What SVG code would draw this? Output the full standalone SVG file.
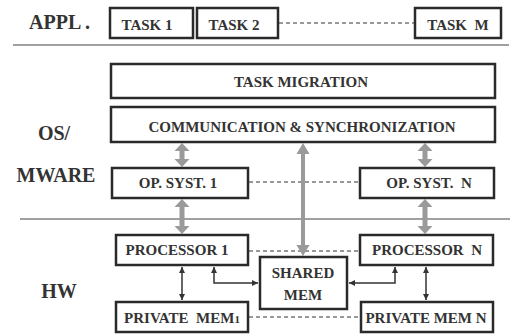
<svg xmlns="http://www.w3.org/2000/svg" width="520" height="336" viewBox="0 0 520 336">
<style>
text{font-family:'Liberation Serif','Times New Roman',Times,serif;font-weight:700;fill:#333;}
.lbl{font-size:20px;}
.t{font-size:15px;text-anchor:middle;}
.box{fill:#fff;stroke:#2a2a2a;stroke-width:2.5;}
.div{stroke:#808080;stroke-width:1.5;fill:none;}
.dash{stroke:#333;stroke-width:1;stroke-dasharray:4 3;fill:none;}
.gray{fill:#9a9a9a;stroke:none;}
.thin{stroke:#333;stroke-width:1.5;fill:none;marker-start:url(#ah);marker-end:url(#ah);}
</style>
<defs>
<marker id="ah" viewBox="0 0 8 8" refX="8" refY="4" markerWidth="6" markerHeight="6" markerUnits="userSpaceOnUse" orient="auto-start-reverse">
<path d="M0,0 L8,4 L0,8 z" fill="#333"/>
</marker>
</defs>
<rect width="520" height="336" fill="#fff"/>
<g id="layer-labels">
<text class="lbl" x="29" y="29" style="font-family:'Liberation Serif',serif">APPL .</text>
<text class="lbl" x="54" y="140" text-anchor="middle">OS/</text>
<text class="lbl" x="56" y="182" text-anchor="middle">MWARE</text>
<text class="lbl" x="59" y="298" text-anchor="middle">HW</text>
</g>
<g id="dividers">
<line class="div" x1="13" y1="45" x2="509" y2="45"/>
<line class="div" x1="20" y1="219" x2="510" y2="219"/>
</g>
<g id="connectors">
<line class="dash" x1="279" y1="23" x2="414" y2="23"/>
<line class="dash" x1="249" y1="182" x2="359" y2="182"/>
<line class="dash" x1="249" y1="251" x2="359" y2="251"/>
<line class="dash" x1="249" y1="317" x2="360" y2="317"/>
<path class="gray" d="M182,143 L189.5,151 L184.5,151 L184.5,159 L189.5,159 L182,167 L174.5,159 L179.5,159 L179.5,151 L174.5,151 Z"/>
<path class="gray" d="M425,143 L432.5,151 L427.5,151 L427.5,159 L432.5,159 L425,167 L417.5,159 L422.5,159 L422.5,151 L417.5,151 Z"/>
<path class="gray" d="M182,199 L189.5,207 L184.5,207 L184.5,226 L189.5,226 L182,234 L174.5,226 L179.5,226 L179.5,207 L174.5,207 Z"/>
<path class="gray" d="M425,199 L432.5,207 L427.5,207 L427.5,226 L432.5,226 L425,234 L417.5,226 L422.5,226 L422.5,207 L417.5,207 Z"/>
<path class="gray" d="M303,143 L309.5,154 L305,154 L305,245 L309.5,245 L303,256 L296.5,245 L301,245 L301,154 L296.5,154 Z"/>
<line class="thin" x1="182" y1="267" x2="182" y2="300"/>
<path class="thin" d="M214,267 V283 H258"/>
<path class="thin" d="M395,267 V283 H349"/>
<line class="thin" x1="426" y1="267" x2="426" y2="300"/>
</g>
<g id="task1"><rect class="box" x="110" y="8" width="83" height="30"/><text class="t" x="147" y="30">TASK 1</text></g>
<g id="task2"><rect class="box" x="197" y="8" width="81" height="30"/><text class="t" x="234" y="30">TASK 2</text></g>
<g id="taskM"><rect class="box" x="415" y="8" width="86" height="30"/><text class="t" x="458" y="30" xml:space="preserve">TASK  M</text></g>
<g id="taskMigration"><rect class="box" x="111" y="64" width="384" height="34"/><text class="t" x="301" y="87">TASK MIGRATION</text></g>
<g id="commSync"><rect class="box" x="111" y="107" width="384" height="35"/><text class="t" x="302" y="132">COMMUNICATION &amp; SYNCHRONIZATION</text></g>
<g id="opSyst1"><rect class="box" x="112" y="168" width="136" height="30"/><text class="t" x="178" y="188">OP. SYST. 1</text></g>
<g id="opSystN"><rect class="box" x="360" y="168" width="134" height="30"/><text class="t" x="429" y="188" xml:space="preserve">OP. SYST.  N</text></g>
<g id="processor1"><rect class="box" x="116" y="235" width="132" height="30"/><text class="t" x="177" y="255">PROCESSOR 1</text></g>
<g id="processorN"><rect class="box" x="360" y="235" width="133" height="30"/><text class="t" x="427" y="255" xml:space="preserve">PROCESSOR  N</text></g>
<g id="sharedMem"><rect class="box" x="260" y="257" width="87" height="52"/><text class="t" x="303" y="278">SHARED</text><text class="t" x="303" y="300">MEM</text></g>
<g id="privateMem1"><rect class="box" x="116" y="302" width="132" height="30"/><text class="t" x="182" y="323" xml:space="preserve">PRIVATE  MEM<tspan font-size="11">1</tspan></text></g>
<g id="privateMemN"><rect class="box" x="361" y="302" width="132" height="30"/><text class="t" x="426" y="323">PRIVATE MEM N</text></g>
</svg>
